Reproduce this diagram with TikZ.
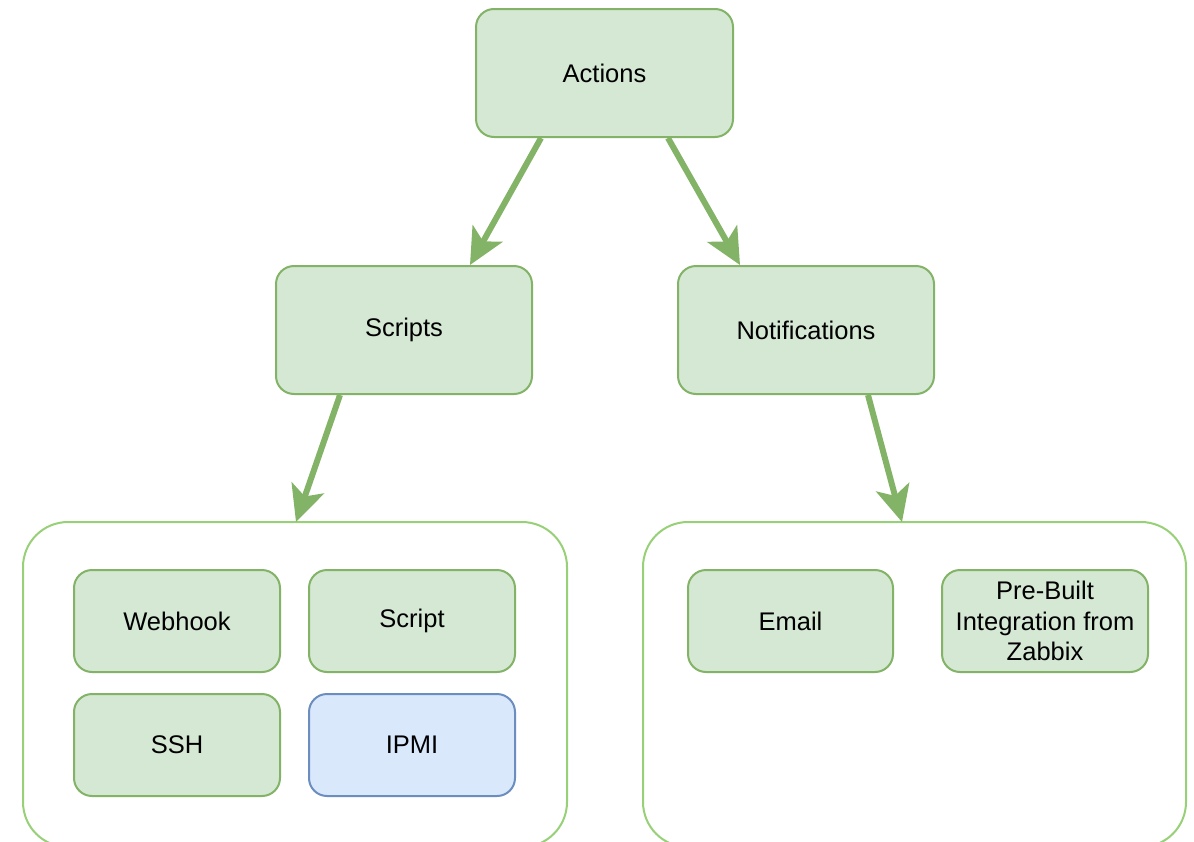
\documentclass[tikz,border=0pt]{standalone}
\usepackage{fontspec}
\setmainfont{Liberation Sans}
\usetikzlibrary{arrows.meta}
\definecolor{gfill}{HTML}{D5E8D4}
\definecolor{gline}{HTML}{82B366}
\definecolor{cline}{HTML}{97D077}
\definecolor{bfill}{HTML}{DAE8FC}
\definecolor{bline}{HTML}{6C8EBF}
\tikzset{
  box/.style={draw=gline, fill=gfill, line width=2pt, rounded corners=18pt, align=center, font=\fontsize{25.5}{30.5}\selectfont},
  bluebox/.style={box, draw=bline, fill=bfill},
  cont/.style={draw=cline, line width=2pt, rounded corners=45pt},
  conn/.style={draw=gline, line width=6pt, -{Stealth[length=36pt, width=34pt, inset=9pt]}, shorten >=0pt}
}
\begin{document}
\begin{tikzpicture}[x=1pt,y=-1pt]
\useasboundingbox (0,0) rectangle (1194,841);
\clip (0,0) rectangle (1194,841);
% containers
\draw[cont] (23,522) rectangle (567,847);
\draw[cont] (643,522) rectangle (1186,847);
\coordinate (lc) at (296,522);
\coordinate (rc) at (902,522);
% top boxes
\node[box, minimum width=257pt, minimum height=128pt] (actions) at (604.5,73) {Actions};
\node[box, minimum width=256pt, minimum height=128pt] (scripts) at (404,330) {Scripts};
\node[box, minimum width=256pt, minimum height=128pt] (notif) at (806,330) {Notifications};
% inner boxes
\node[box, minimum width=206pt, minimum height=102pt] (webhook) at (177,621) {Webhook};
\node[box, minimum width=206pt, minimum height=102pt] (script) at (412,621) {Script};
\node[box, minimum width=206pt, minimum height=102pt] (ssh) at (177,745) {SSH};
\node[bluebox, minimum width=206pt, minimum height=102pt] (ipmi) at (412,745) {IPMI};
\node[box, minimum width=205pt, minimum height=102pt] (email) at (790.5,621) {Email};
\node[box, minimum width=206pt, minimum height=102pt] (prebuilt) at (1045,621) {Pre-Built\\Integration from\\Zabbix};
% arrows
\draw[conn] (actions.south -| 541,0) -- (470,265);
\draw[conn] (actions.south -| 668,0) -- (740,265);
\draw[conn] (scripts.south -| 340,0) -- (lc);
\draw[conn] (notif.south -| 868,0) -- (rc);
\end{tikzpicture}
\end{document}
